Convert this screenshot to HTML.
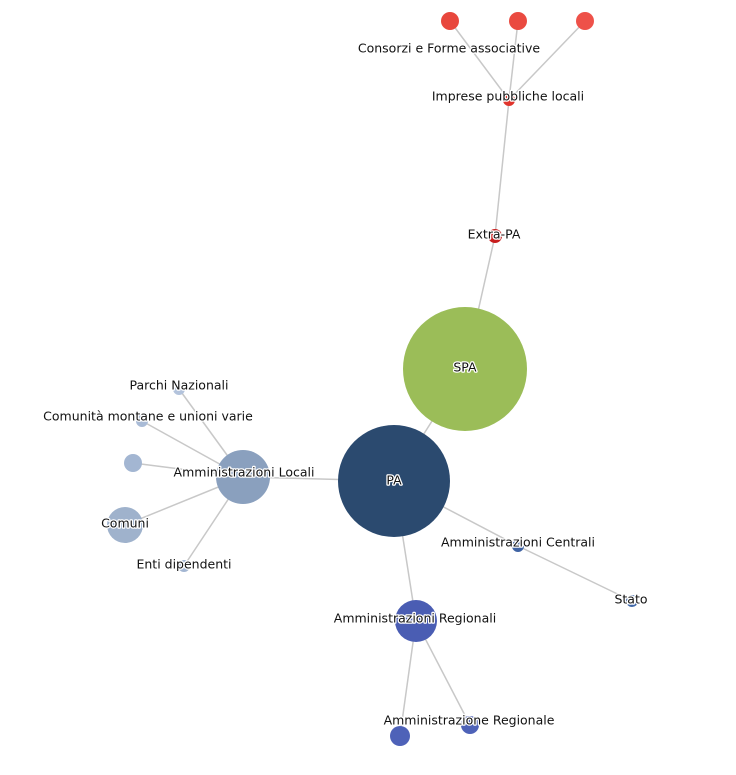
<!DOCTYPE html>
<html><head><meta charset="utf-8"><style>
html,body{margin:0;padding:0;background:#fff;}
svg{display:block;}
text{font-family:"DejaVu Sans","Liberation Sans",sans-serif;font-size:12.5px;fill:#111;stroke:#fff;stroke-width:2.5px;paint-order:stroke;stroke-linejoin:round;text-anchor:middle;dominant-baseline:middle;}
line{stroke:#c8c8c8;stroke-width:1.5;}
</style></head><body>
<svg width="736" height="775" viewBox="0 0 736 775">
<g>
<line x1="450" y1="21" x2="509" y2="100"/>
<line x1="518" y1="21" x2="509" y2="100"/>
<line x1="585" y1="21" x2="509" y2="100"/>
<line x1="509" y1="100" x2="495" y2="236"/>
<line x1="495" y1="236" x2="465" y2="369"/>
<line x1="465" y1="369" x2="394" y2="481"/>
<line x1="394" y1="481" x2="243" y2="477"/>
<line x1="243" y1="477" x2="179" y2="389"/>
<line x1="243" y1="477" x2="142" y2="421"/>
<line x1="243" y1="477" x2="133" y2="463"/>
<line x1="243" y1="477" x2="125" y2="525"/>
<line x1="243" y1="477" x2="184" y2="566"/>
<line x1="394" y1="481" x2="518" y2="546"/>
<line x1="518" y1="546" x2="632" y2="601"/>
<line x1="394" y1="481" x2="416" y2="621"/>
<line x1="416" y1="621" x2="400" y2="736"/>
<line x1="416" y1="621" x2="470" y2="725"/>
</g>
<g>
<circle cx="450" cy="21" r="9" fill="#e8473d"/>
<circle cx="518" cy="21" r="9" fill="#ea4a40"/>
<circle cx="585" cy="21" r="9" fill="#ee5149"/>
<circle cx="509" cy="100" r="6" fill="#e0342c"/>
<circle cx="495" cy="236" r="7" fill="#c81e1e"/>
<circle cx="465" cy="369" r="62" fill="#9bbd58"/>
<circle cx="394" cy="481" r="56" fill="#2b4a6f"/>
<circle cx="243" cy="477" r="27" fill="#8aa0be"/>
<circle cx="125" cy="525" r="18" fill="#9fb2cc"/>
<circle cx="133" cy="463" r="9" fill="#a3b6d2"/>
<circle cx="142" cy="421" r="6" fill="#a9bbd6"/>
<circle cx="179" cy="389" r="6" fill="#b3c3dc"/>
<circle cx="184" cy="566" r="6" fill="#a3b6d2"/>
<circle cx="518" cy="546" r="6" fill="#3f63a3"/>
<circle cx="632" cy="601" r="6" fill="#4168a8"/>
<circle cx="416" cy="621" r="21" fill="#4a5db3"/>
<circle cx="400" cy="736" r="10" fill="#4e62b8"/>
<circle cx="470" cy="725" r="9" fill="#4e62b8"/>
</g>
<g>
<text x="449" y="49">Consorzi e Forme associative</text>
<text x="508" y="97">Imprese pubbliche locali</text>
<text x="494" y="235">Extra-PA</text>
<text x="465" y="368">SPA</text>
<text x="394" y="481">PA</text>
<text x="179" y="386">Parchi Nazionali</text>
<text x="148" y="417">Comunità montane e unioni varie</text>
<text x="244" y="473">Amministrazioni Locali</text>
<text x="125" y="524">Comuni</text>
<text x="184" y="565">Enti dipendenti</text>
<text x="518" y="543">Amministrazioni Centrali</text>
<text x="631" y="600">Stato</text>
<text x="415" y="619">Amministrazioni Regionali</text>
<text x="469" y="721">Amministrazione Regionale</text>
</g>
</svg>
</body></html>
